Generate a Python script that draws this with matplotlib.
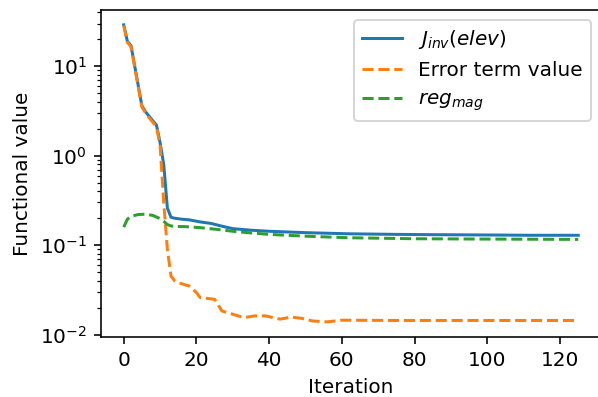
import numpy as np
import matplotlib
matplotlib.use("Agg")
import matplotlib.pyplot as plt

# === Werte ==============================================================
it_J = [0, 1, 2, 5, 6, 7, 9, 10, 11, 12, 13, 14, 16, 18, 21, 24, 27, 30,
        35, 40, 50, 62, 75, 85, 100, 112, 125]
J_inv = [29, 19, 17, 3.6, 3.1, 2.75, 2.2, 1.4, 0.8, 0.26, 0.205, 0.2, 0.195,
         0.192, 0.182, 0.175, 0.163, 0.153, 0.147, 0.143, 0.138, 0.134,
         0.132, 0.131, 0.130, 0.129, 0.129]

it_err = [0, 1, 2, 5, 6, 7, 9, 10, 11, 12, 13, 14, 15, 18, 20, 21, 25, 27,
          30, 33, 36, 39, 43, 46, 49, 52, 56, 60, 75, 100, 125]
err_term = [28.5, 18.5, 16.5, 3.5, 3.0, 2.65, 2.1, 1.3, 0.3, 0.09, 0.045,
            0.040, 0.038, 0.035, 0.0295, 0.026, 0.0248, 0.0184, 0.0169,
            0.0155, 0.0162, 0.0162, 0.0149, 0.0157, 0.0152, 0.0142, 0.0139,
            0.0145, 0.0144, 0.0144, 0.0144]

it_reg = [0, 1, 2, 4, 6, 8, 10, 11, 12, 13, 14, 17, 21, 25, 30, 35, 40, 50,
          62, 80, 100, 125]
reg_mag = [0.159, 0.195, 0.21, 0.22, 0.222, 0.215, 0.198, 0.185, 0.17,
           0.164, 0.162, 0.161, 0.157, 0.151, 0.143, 0.137, 0.132, 0.126,
           0.121, 0.118, 0.117, 0.116]

# === Plot ===============================================================
# rechte Achsenlinie liegt ausserhalb des Bildes (wie im Original)
fig = plt.figure(figsize=(598/144, 397/144), dpi=144)
ax = fig.add_axes([101/598, 60.3/397, 500/598, 326.7/397])
ax.spines['right'].set_visible(False)

ax.plot(it_J, J_inv, color='C0', label=r'$J_{inv}(elev)$')
ax.plot(it_err, err_term, '--', color='C1', label='Error term value')
ax.plot(it_reg, reg_mag, '--', color='C2', label=r'$reg_{mag}$')

ax.set_yscale('log')
ax.set_xlabel("Iteration")
ax.set_ylabel("Functional value")
ax.legend(loc='upper right')

fig.savefig("out.png", dpi=144)
